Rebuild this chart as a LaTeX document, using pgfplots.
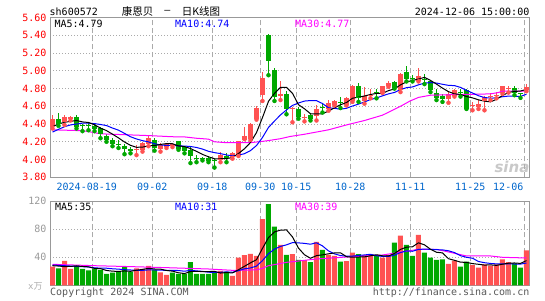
\documentclass[border=0pt]{standalone}
\usepackage{fontspec}
\setmainfont{DejaVu Sans Mono}
\newfontfamily\cjk{Noto Sans CJK SC}
\newfontfamily\sinafont{DejaVu Sans}
\usepackage{pgfplots}
\usepackage{pgfplotstable}
\pgfplotsset{compat=1.18}
\definecolor{kred}{RGB}{255,82,82}
\definecolor{kgreen}{RGB}{0,168,0}
\definecolor{pred}{RGB}{255,0,0}
\definecolor{dblue}{RGB}{0,102,204}
\definecolor{grd}{RGB}{170,170,170}
\definecolor{frm}{RGB}{153,153,153}
\definecolor{mablue}{RGB}{0,0,255}
\definecolor{mamag}{RGB}{255,0,255}

% up candles: index open close high low
\pgfplotstableread{
i O C H L
0 4.37 4.46 4.50 4.35
2 4.43 4.48 4.50 4.39
3 4.46 4.48 4.49 4.44
14 4.11 4.12 4.16 4.05
15 4.11 4.19 4.20 4.09
16 4.18 4.24 4.27 4.15
18 4.12 4.16 4.19 4.09
19 4.15 4.17 4.19 4.13
20 4.16 4.18 4.19 4.14
28 4.00 4.05 4.09 3.97
30 4.03 4.07 4.09 4.01
31 4.05 4.21 4.21 4.04
32 4.23 4.26 4.37 4.23
33 4.24 4.40 4.41 4.22
34 4.46 4.58 4.60 4.45
35 4.73 4.92 4.99 4.66
38 4.72 4.74 4.89 4.67
40 4.57 4.58 4.59 4.42
42 4.47 4.48 4.51 4.43
44 4.50 4.57 4.61 4.44
46 4.58 4.64 4.67 4.55
47 4.62 4.655 4.67 4.61
49 4.62 4.69 4.70 4.61
50 4.67 4.83 4.84 4.65
52 4.66 4.72 4.82 4.63
53 4.72 4.725 4.79 4.69
55 4.76 4.83 4.83 4.75
56 4.83 4.86 4.88 4.82
58 4.79 4.96 4.97 4.76
61 4.895 4.94 5.03 4.88
66 4.69 4.74 4.76 4.64
67 4.72 4.78 4.80 4.71
70 4.61 4.615 4.65 4.555
71 4.60 4.63 4.67 4.57
72 4.67 4.705 4.72 4.555
73 4.715 4.72 4.755 4.67
74 4.72 4.725 4.76 4.69
75 4.755 4.825 4.825 4.74
76 4.80 4.81 4.83 4.755
79 4.79 4.82 4.85 4.77
}\upk

% down candles: index open close high low
\pgfplotstableread{
i O C H L
1 4.46 4.41 4.52 4.38
4 4.48 4.37 4.50 4.35
5 4.38 4.38 4.40 4.32
6 4.39 4.38 4.41 4.33
7 4.38 4.35 4.41 4.32
8 4.35 4.29 4.37 4.24
9 4.27 4.23 4.29 4.20
10 4.225 4.18 4.24 4.15
11 4.18 4.17 4.22 4.13
12 4.15 4.12 4.18 4.06
13 4.12 4.10 4.14 4.07
17 4.22 4.14 4.24 4.10
21 4.21 4.12 4.21 4.11
22 4.14 4.10 4.15 4.07
23 4.11 4.05 4.14 3.96
24 4.02 4.01 4.05 3.97
25 4.02 4.01 4.03 3.99
26 4.02 3.985 4.04 3.97
27 4.00 3.99 4.01 3.91
29 4.04 4.02 4.07 3.97
36 5.40 5.12 5.42 4.95
37 5.01 4.71 5.03 4.66
39 4.74 4.58 4.77 4.51
41 4.57 4.48 4.59 4.46
43 4.50 4.46 4.53 4.44
45 4.59 4.585 4.63 4.53
48 4.64 4.64 4.70 4.58
51 4.83 4.70 4.86 4.65
54 4.75 4.75 4.79 4.69
57 4.87 4.81 4.88 4.80
59 4.99 4.91 5.05 4.88
60 4.92 4.915 4.95 4.88
62 4.91 4.905 4.96 4.85
63 4.88 4.79 4.89 4.76
64 4.755 4.70 4.80 4.67
65 4.72 4.69 4.74 4.65
68 4.76 4.76 4.80 4.71
69 4.78 4.58 4.80 4.57
77 4.81 4.755 4.825 4.725
78 4.75 4.745 4.755 4.695
}\downk

% volume (x 10^4)
\pgfplotstableread{
i V
0 26.7
2 34.8
3 23.3
14 24.3
15 23.3
16 27.6
18 18.6
19 14.8
28 20.5
30 13.5
31 39.5
32 43
33 45
34 42
35 94.7
38 57.6
40 44.7
42 36
44 62
46 43.5
47 42
49 34.7
50 46.7
52 43
53 41.9
55 39.5
56 43.3
58 71
61 71.9
66 30.5
67 35.2
70 29
71 25.2
72 30
73 28.1
74 30
75 37
76 33
79 50
}\vup

\pgfplotstableread{
i V
1 24.3
4 29
5 23.3
6 21.4
7 23.3
8 21.9
9 16.2
10 18.1
11 19.5
12 26.7
13 19.5
17 21.9
20 18.1
21 16.2
22 16.2
23 33
24 16.2
25 16.2
26 16.2
27 18.6
29 19.5
36 116
37 83.7
39 43.3
41 36.2
43 33
45 50.5
48 33.8
51 44.7
54 41.9
57 61
59 57.6
60 41.9
62 46.7
63 39.5
64 36.2
65 37.1
68 26.7
69 33.8
77 31.4
78 25.2
}\vdown

\pgfplotsset{
  kbase/.style={scale only axis, width=479.3pt, xmin=-0.417, xmax=79.47,
    axis line style={frm, line width=1pt},
    major tick length=0pt,
    xtick={6.63,16.63,26.63,34.63,40.63,49.63,59.63,69.63,78.63},
    xmajorgrids, ymajorgrids,
    x grid style={grd, line width=1pt, dash pattern=on 5pt off 3pt},
    y grid style={grd, line width=1pt, dash pattern=on 1pt off 2pt},
    tick label style={font=\fontsize{10}{12}\selectfont},
    clip=true},
  body/.style={only marks, mark=-, mark size=2.5pt, mark options={line width=1pt}, color=#1,
    error bars/.cd, y dir=plus, y explicit, error mark=none,
    error bar style={line width=5pt, color=#1}},
  wick/.style={only marks, mark=none, color=#1,
    error bars/.cd, y dir=plus, y explicit, error mark=none,
    error bar style={line width=1pt, color=#1}},
  maline/.style={mark=none, line width=1pt, color=#1},
}

\begin{document}
\fontsize{10}{12}\selectfont
\begin{tikzpicture}
\useasboundingbox (0pt,0pt) rectangle (545pt,300pt);

% ---------------- price panel ----------------
\begin{axis}[kbase, at={(50pt,122.7pt)}, anchor=south west, height=159.75pt,
  ymin=3.8, ymax=5.6,
  ytick={3.8,4.0,4.2,4.4,4.6,4.8,5.0,5.2,5.4,5.6},
  yticklabels={3.80,4.00,4.20,4.40,4.60,4.80,5.00,5.20,5.40,5.60},
  yticklabel style={pred},
  xticklabels={{2024-08-19\hspace*{11pt}},09-02,09-18,09-30,10-15,10-28,11-11,11-25,{12-06\hspace*{32pt}}},
  xticklabel style={dblue, yshift=-2pt}]
  % wicks
  \addplot[wick=kred] table[x=i, y=L, y error expr=\thisrow{H}-\thisrow{L}] \upk;
  \addplot[wick=kgreen] table[x=i, y=L, y error expr=\thisrow{H}-\thisrow{L}] \downk;
  % bodies
  \addplot[body=kred] table[x=i, y=O, y error expr=\thisrow{C}-\thisrow{O}] \upk;
  \addplot[body=kgreen] table[x=i, y=C, y error expr=\thisrow{O}-\thisrow{C}] \downk;
  % MA30
  \addplot[maline=mamag] coordinates {
    (0,4.335)(5,4.325)(6,4.315)(8,4.29)(12,4.28)(16,4.27)(20,4.257)(22,4.255)
    (24,4.24)(26,4.23)(27,4.20)(29,4.19)(33,4.19)(35,4.205)(36,4.214)(38,4.235)
    (39.6,4.26)(42,4.285)(46,4.335)(49,4.39)(52,4.44)(55,4.50)(58,4.60)(59.6,4.66)
    (61,4.70)(63,4.725)(66,4.73)(70,4.735)(73,4.74)(74.3,4.755)(75,4.77)(79,4.77)};
  % MA10
  \addplot[maline=mablue] coordinates {
    (0,4.31)(1,4.34)(2,4.37)(3,4.39)(4,4.40)(5,4.41)(6,4.41)(7,4.405)(8,4.395)
    (9,4.383)(10,4.355)(11,4.331)(12,4.295)(13,4.257)(14,4.232)(15,4.213)(16,4.199)
    (17,4.178)(18,4.165)(19,4.159)(20,4.159)(21,4.154)(22,4.152)(23,4.147)(24,4.136)
    (25,4.118)(26,4.093)(27,4.078)(28,4.067)(29,4.052)(30,4.041)(31,4.050)(32,4.066)
    (33,4.101)(34,4.158)(35,4.249)(36,4.362)(37,4.434)(38,4.503)(39,4.559)(40,4.61)
    (41,4.637)(42,4.659)(43,4.665)(44,4.664)(45,4.631)(46,4.583)(47,4.577)(48,4.567)
    (49,4.578)(50,4.603)(51,4.625)(52,4.649)(53,4.676)(54,4.694)(55,4.718)(56,4.74)
    (57,4.756)(58,4.788)(59,4.810)(60,4.818)(61,4.842)(62,4.861)(63,4.867)(64,4.862)
    (65,4.848)(66,4.836)(67,4.833)(68,4.813)(69,4.78)(70,4.75)(71,4.719)(72,4.699)
    (73,4.692)(74,4.695)(75,4.708)(76,4.715)(77,4.713)(78,4.711)(79,4.736)};
  % MA5
  \addplot[maline=black] coordinates {
    (0,4.37)(1,4.40)(2,4.42)(3,4.43)(4,4.44)(5,4.424)(6,4.418)(7,4.392)(8,4.354)
    (9,4.326)(10,4.286)(11,4.244)(12,4.198)(13,4.16)(14,4.138)(15,4.14)(16,4.154)
    (17,4.158)(18,4.17)(19,4.18)(20,4.178)(21,4.154)(22,4.146)(23,4.124)(24,4.092)
    (25,4.058)(26,4.031)(27,4.009)(28,4.009)(29,4.011)(30,4.023)(31,4.068)(32,4.122)
    (33,4.192)(34,4.304)(35,4.474)(36,4.656)(37,4.746)(38,4.814)(39,4.814)(40,4.746)
    (41,4.618)(42,4.572)(43,4.516)(44,4.514)(45,4.515)(46,4.547)(47,4.582)(48,4.618)
    (49,4.642)(50,4.691)(51,4.703)(52,4.716)(53,4.733)(54,4.745)(55,4.745)(56,4.777)
    (57,4.795)(58,4.842)(59,4.874)(60,4.891)(61,4.907)(62,4.926)(63,4.892)(64,4.85)
    (65,4.805)(66,4.765)(67,4.74)(68,4.734)(69,4.71)(70,4.695)(71,4.673)(72,4.658)
    (73,4.65)(74,4.679)(75,4.721)(76,4.757)(77,4.767)(78,4.772)(79,4.791)};
\end{axis}

% ---------------- volume panel ----------------
\begin{axis}[kbase, at={(50pt,14.7pt)}, anchor=south west, height=84pt,
  ymin=0, ymax=120, ytick={40,80,120}, yticklabels={40,80,120},
  yticklabel style={frm}, xticklabel=\empty]
  \addplot[ybar, bar width=5pt, bar shift=0pt, fill=kred, draw=none] table[x=i, y=V] \vup;
  \addplot[ybar, bar width=5pt, bar shift=0pt, fill=kgreen, draw=none] table[x=i, y=V] \vdown;
  % MA30
  \addplot[maline=mamag] coordinates {
    (0,30)(7,28)(13,26.7)(19,25.2)(26,23.3)(30,21.4)(34,22)(35,24.3)(36,28)(39,32.8)
    (44,37.6)(50,41)(55,43.3)(61,51.4)(64,51.4)(69,41.9)(73,41.9)(75,40)(79,39)};
  % MA10
  \addplot[maline=mablue] coordinates {
    (0,29)(2,28)(4,27)(6,26.2)(7,25)(8,24.5)(9,24.4)(10,23.6)(11,23.1)(12,22.3)
    (13,21.9)(14,21.4)(15,21.4)(16,22.0)(17,21.9)(18,21.6)(19,21.4)(20,21.4)(21,21.1)
    (22,20.1)(23,21.4)(24,20.6)(25,19.9)(26,18.7)(27,18.4)(28,18.6)(29,19.1)(30,18.6)
    (31,20.9)(32,23.6)(33,24.8)(34,27.4)(35,35.3)(36,45.2)(37,51.7)(38,55.5)(39,57.8)
    (40,61.0)(41,60.6)(42,59.9)(43,58.7)(44,60.7)(45,56.3)(46,49.1)(47,44.9)(48,42.5)
    (49,41.6)(50,41.8)(51,42.7)(52,43.4)(53,44.3)(54,42.3)(55,41.2)(56,41.2)(57,43.1)
    (58,46.8)(59,49.1)(60,48.6)(61,51.3)(62,51.7)(63,51.4)(64,50.9)(65,50.6)(66,49.3)
    (67,46.8)(68,42.3)(69,40.0)(70,38.7)(71,34.0)(72,32.3)(73,31.2)(74,30.6)(75,30.6)
    (76,30.8)(77,30.4)(78,30.3)(79,31.9)};
  % MA5
  \addplot[maline=black] coordinates {
    (0,28)(1,27.5)(2,26.7)(3,27)(4,27.6)(5,26.9)(6,26.4)(7,24.1)(8,23.8)(9,21.2)
    (10,20.2)(11,19.8)(12,20.5)(13,20.0)(14,21.6)(15,22.7)(16,24.3)(17,23.3)(18,23.1)
    (19,21.2)(20,20.2)(21,17.9)(22,16.8)(23,19.7)(24,19.9)(25,19.6)(26,19.6)(27,20.0)
    (28,17.5)(29,18.2)(30,17.7)(31,22.3)(32,27.2)(33,32.1)(34,36.6)(35,52.8)(36,68.1)
    (37,76.3)(38,78.8)(39,79.1)(40,69.1)(41,53.1)(42,43.6)(43,38.6)(44,42.4)(45,43.5)
    (46,45.0)(47,46.2)(48,46.4)(49,40.9)(50,40.1)(51,40.4)(52,40.6)(53,42.2)(54,43.6)
    (55,42.2)(56,41.9)(57,45.5)(58,51.3)(59,54.5)(60,55.0)(61,60.7)(62,57.8)(63,51.5)
    (64,47.2)(65,46.3)(66,38.0)(67,35.7)(68,33.1)(69,32.7)(70,31.0)(71,30.0)(72,28.9)
    (73,29.2)(74,28.5)(75,30.1)(76,31.6)(77,31.9)(78,31.3)(79,35.3)};
\end{axis}

% ---------------- texts ----------------
\node[anchor=west, inner sep=0pt] at (49.5pt,288.5pt) {sh600572};
\node[anchor=west, inner sep=0pt] at (121.7pt,288.5pt) {\cjk\fontsize{10.5}{11}\selectfont 康恩贝};
\node[inner sep=0pt] at (167.5pt,288.5pt) {–};
\node[anchor=west, inner sep=0pt] at (181.7pt,288.5pt) {\cjk\fontsize{10.5}{11}\selectfont 日K线图};
\node[anchor=east, inner sep=0pt] at (529.5pt,288.5pt) {2024-12-06 15:00:00};

\node[anchor=west, inner sep=0pt] at (54.3pt,276pt) {MA5:4.79};
\node[anchor=west, inner sep=0pt, text=mablue] at (175pt,276pt) {MA10:4.74};
\node[anchor=west, inner sep=0pt, text=mamag] at (295pt,276pt) {MA30:4.77};

\node[anchor=west, inner sep=0pt] at (55pt,93.3pt) {MA5:35};
\node[anchor=west, inner sep=0pt, text=mablue] at (175pt,93.3pt) {MA10:31};
\node[anchor=west, inner sep=0pt, text=mamag] at (295pt,93.3pt) {MA30:39};

\node[anchor=west, inner sep=0pt, text=frm!80] at (28pt,14pt) {\fontsize{9}{10}\selectfont x{\cjk 万}};

\node[anchor=west, inner sep=0pt, text=black!65] at (50pt,7.3pt) {Copyright 2024 SINA.COM};
\node[anchor=east, inner sep=0pt, text=black!65] at (529.5pt,7.3pt) {http://finance.sina.com.cn};

\node[text=black!30, opacity=0.7, font=\sinafont\bfseries\itshape\fontsize{15}{15}\selectfont] at (512pt,133pt) {sina};
\end{tikzpicture}
\end{document}
